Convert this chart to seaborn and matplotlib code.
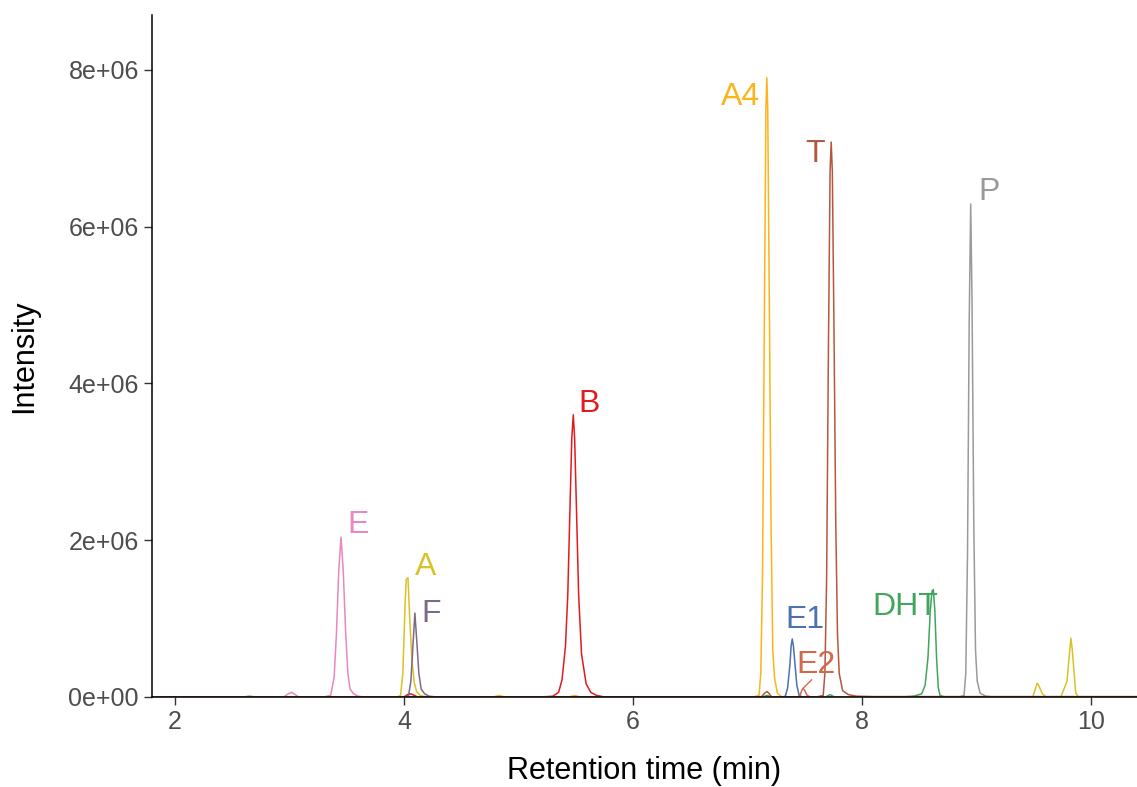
import matplotlib
matplotlib.use("Agg")
import matplotlib.pyplot as plt
import seaborn as sns
import pandas as pd
from matplotlib.ticker import FuncFormatter

# ---------------- data (intensity in units of 1e6) ----------------
compounds = ["A", "A4", "B", "DHT", "E", "E1", "E2", "F", "P", "T"]
colors = ["#D9C227", "#FBB41A", "#E41A1C", "#41A55B", "#E987C0",
          "#4A72B0", "#D2694C", "#7E6A85", "#9A9A9A", "#B4573F"]

t_A = [1.80, 3.94, 3.97, 3.99, 4.01, 4.02, 4.035, 4.05, 4.07, 4.09, 4.11, 4.14, 4.20,
       9.49, 9.528, 9.54, 9.575, 9.606, 9.735, 9.788, 9.823, 9.835, 9.865, 9.889, 10.40]
i_A = [0, 0, 0.02, 0.30, 1.20, 1.50, 1.52, 1.00, 0.45, 0.18, 0.07, 0.02, 0,
       0, 0.175, 0.15, 0.04, 0, 0, 0.195, 0.75, 0.60, 0.05, 0, 0]

t_A4 = [1.80, 4.78, 4.83, 4.88, 5.44, 5.49, 5.54,
        7.05, 7.10, 7.115, 7.13, 7.145, 7.16, 7.168, 7.176, 7.19, 7.205, 7.22, 7.235, 7.26, 7.30, 10.40]
i_A4 = [0, 0, 0.02, 0, 0, 0.02, 0,
        0, 0.02, 0.30, 1.50, 4.50, 7.50, 7.90, 7.50, 5.00, 2.20, 0.60, 0.25, 0.05, 0, 0]

t_B = [1.80, 4.00, 4.03, 4.06, 4.09, 4.12,
       5.20, 5.30, 5.35, 5.38, 5.41, 5.43, 5.45, 5.465, 5.478, 5.49, 5.505, 5.525, 5.55, 5.59, 5.63, 5.68, 5.75, 10.40]
i_B = [0, 0, 0.03, 0.04, 0.02, 0,
       0, 0.01, 0.06, 0.22, 0.65, 1.30, 2.45, 3.30, 3.60, 3.30, 2.45, 1.30, 0.55, 0.17, 0.06, 0.02, 0, 0]

t_DHT = [1.80, 2.60, 2.65, 2.70, 7.13, 7.17, 7.21, 7.68, 7.72, 7.76,
         8.35, 8.45, 8.52, 8.55, 8.575, 8.595, 8.61, 8.622, 8.635, 8.65, 8.665, 8.68, 8.72, 10.40]
i_DHT = [0, 0, 0.01, 0, 0, 0.02, 0, 0, 0.03, 0,
         0, 0.01, 0.04, 0.15, 0.50, 1.10, 1.35, 1.37, 1.10, 0.50, 0.12, 0.02, 0, 0]

t_E = [1.80, 2.95, 2.99, 3.02, 3.05, 3.08,
       3.30, 3.36, 3.39, 3.41, 3.43, 3.45, 3.47, 3.49, 3.51, 3.53, 3.56, 3.60, 3.65, 10.40]
i_E = [0, 0, 0.04, 0.06, 0.03, 0,
       0, 0.02, 0.25, 0.80, 1.60, 2.04, 1.60, 0.85, 0.30, 0.10, 0.04, 0.01, 0, 0]

t_E1 = [1.80, 7.30, 7.33, 7.35, 7.37, 7.38, 7.39, 7.40, 7.415, 7.43, 7.45, 7.48, 10.40]
i_E1 = [0, 0, 0.01, 0.12, 0.42, 0.65, 0.74, 0.65, 0.40, 0.15, 0.02, 0, 0]

t_E2 = [1.80, 7.44, 7.46, 7.475, 7.485, 7.50, 7.52, 7.55, 10.40]
i_E2 = [0, 0, 0.03, 0.09, 0.11, 0.08, 0.02, 0, 0]

t_F = [1.80, 4.00, 4.04, 4.06, 4.08, 4.095, 4.11, 4.13, 4.15, 4.18, 4.22, 4.28, 10.40]
i_F = [0, 0, 0.02, 0.20, 0.70, 1.07, 0.75, 0.30, 0.10, 0.04, 0.01, 0, 0]

t_P = [1.80, 8.85, 8.89, 8.905, 8.92, 8.935, 8.948, 8.96, 8.975, 8.99, 9.005, 9.03, 9.08, 9.15, 10.40]
i_P = [0, 0, 0.02, 0.30, 1.80, 4.80, 6.29, 5.00, 2.20, 0.60, 0.20, 0.05, 0.01, 0, 0]

t_T = [1.80, 7.12, 7.15, 7.17, 7.19, 7.21,
       7.60, 7.66, 7.675, 7.69, 7.705, 7.72, 7.73, 7.74, 7.755, 7.77, 7.785, 7.80, 7.83, 7.88, 7.95, 8.10, 10.40]
i_T = [0, 0, 0.05, 0.07, 0.04, 0,
       0, 0.02, 0.30, 1.50, 4.30, 6.70, 7.08, 6.70, 4.60, 2.20, 0.80, 0.30, 0.08, 0.03, 0.01, 0.005, 0.005]

label_text = ["E", "A", "F", "B", "A4", "T", "P", "E1", "E2", "DHT"]
label_cmp = ["E", "A", "F", "B", "A4", "T", "P", "E1", "E2", "DHT"]
label_t = [3.60, 4.19, 4.24, 5.62, 6.94, 7.59, 9.11, 7.50, 7.60, 8.38]
label_i = [2.19, 1.66, 1.06, 3.74, 7.65, 6.93, 6.44, 0.98, 0.41, 1.15]

# E2 repel segment (label -> point)
seg_t = [7.56, 7.487]
seg_i = [0.22, 0.115]

# ---------------- build long table ----------------
series_t = dict(A=t_A, A4=t_A4, B=t_B, DHT=t_DHT, E=t_E, E1=t_E1, E2=t_E2, F=t_F, P=t_P, T=t_T)
series_i = dict(A=i_A, A4=i_A4, B=i_B, DHT=i_DHT, E=i_E, E1=i_E1, E2=i_E2, F=i_F, P=i_P, T=i_T)
frames = []
for c in compounds:
    frames.append(pd.DataFrame({"time": series_t[c],
                                "intensity": [v * 1e6 for v in series_i[c]],
                                "compound": c}))
df = pd.concat(frames, ignore_index=True)
palette = dict(zip(compounds, colors))

sns.set_theme(style="ticks")
plt.rcParams["font.family"] = ["Liberation Sans", "DejaVu Sans"]

fig = plt.figure(figsize=(11.37, 7.87), dpi=100)
ax = fig.add_axes([0.1337, 0.1144, 0.8663, 0.8665])

sns.lineplot(data=df, x="time", y="intensity", hue="compound", hue_order=compounds,
             palette=palette, estimator=None, sort=False, linewidth=1.1,
             legend=False, ax=ax)

for txt, c, tx, iy in zip(label_text, label_cmp, label_t, label_i):
    ax.text(tx, iy * 1e6, txt, color=palette[c], fontsize=23,
            ha="center", va="center")
ax.plot(seg_t, [v * 1e6 for v in seg_i], color=palette["E2"], linewidth=1.0)

ax.set_xlim(1.80, 10.40)
ax.set_ylim(0, 8.70e6)
ax.set_xticks([2, 4, 6, 8, 10])
ax.set_yticks([0, 2e6, 4e6, 6e6, 8e6])
ax.yaxis.set_major_formatter(FuncFormatter(lambda v, p: f"{v:.0e}"))
ax.set_xlabel("Retention time (min)", fontsize=22, color="black", labelpad=16)
ax.set_ylabel("Intensity", fontsize=22, color="black", labelpad=21)
ax.tick_params(axis="both", labelsize=18, labelcolor="#4D4D4D", color="#333333",
               length=6, width=1.0)
for s in ["left", "bottom"]:
    ax.spines[s].set_color("black")
    ax.spines[s].set_linewidth(1.1)
sns.despine(ax=ax)

fig.savefig("out.png", dpi=100)
